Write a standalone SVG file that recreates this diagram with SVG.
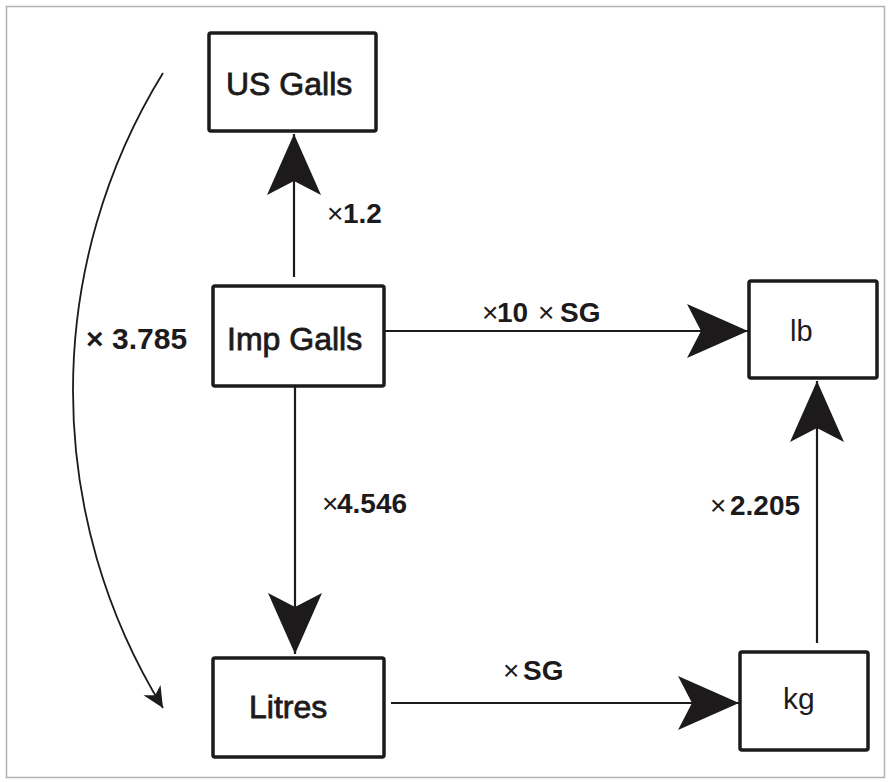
<svg xmlns="http://www.w3.org/2000/svg" width="890" height="782" viewBox="0 0 890 782">
<defs>
<style>
.box{fill:#fff;stroke:#1c1a1b;stroke-width:3.5}
.nl{font-family:"Liberation Sans",Arial,sans-serif;font-size:32px;fill:#1c1a1b}
.hv{stroke:#1c1a1b;stroke-width:0.8}
.lbl{font-family:"Liberation Sans",Arial,sans-serif;font-size:28px;fill:#1c1a1b;font-weight:bold}
.x{font-weight:normal}
.con{fill:none;stroke:#1c1a1b;stroke-width:2.2}
</style>
<marker id="big" markerUnits="userSpaceOnUse" viewBox="-62 -28 64 56" refX="0" refY="0" markerWidth="64" markerHeight="56" orient="auto">
<path d="M0,0 L-61,-27 L-47,0 L-61,27 Z" fill="#1c1a1b"/>
</marker>
<marker id="small" markerUnits="userSpaceOnUse" viewBox="-22 -11 24 22" refX="0" refY="0" markerWidth="24" markerHeight="22" orient="auto">
<path d="M0,0 L-21,-10 L-15,0 L-21,10 Z" fill="#1c1a1b"/>
</marker>
</defs>
<rect x="0" y="0" width="890" height="782" fill="#fff"/>
<rect x="6.5" y="6.5" width="878" height="771" fill="none" stroke="#b3b3b3" stroke-width="1.5"/>
<g id="connectors">
<path class="con" d="M294,277 L294,134" marker-end="url(#big)"/>
<path class="con" d="M385,331 L748,331" marker-end="url(#big)"/>
<path class="con" d="M295,386 L295,654" marker-end="url(#big)"/>
<path class="con" d="M391,703 L739,703" marker-end="url(#big)"/>
<path class="con" d="M817,643 L817,381" marker-end="url(#big)"/>
<path class="con" style="stroke-width:1.8" d="M163,73 A605,605 0 0 0 163,708" marker-end="url(#small)"/>
<text class="lbl" x="327" y="223"><tspan class="x">×</tspan><tspan x="343">1.2</tspan></text>
<text class="lbl" y="322"><tspan class="x" x="482">×</tspan><tspan x="497">10</tspan><tspan class="x" x="538">×</tspan><tspan x="560">SG</tspan></text>
<text class="lbl" style="font-size:30px" x="86" y="349">× <tspan x="112">3.785</tspan></text>
<text class="lbl" x="322" y="513"><tspan class="x">×</tspan><tspan x="337">4.546</tspan></text>
<text class="lbl" x="710" y="515"><tspan class="x">×</tspan><tspan x="730">2.205</tspan></text>
<text class="lbl" x="503" y="680"><tspan class="x">×</tspan><tspan x="523">SG</tspan></text>
</g>
<g id="us-galls">
<rect class="box" x="209" y="33" width="167" height="98" rx="2"/>
<text class="nl hv" x="226" y="95">US Galls</text>
</g>
<g id="imp-galls">
<rect class="box" x="213" y="286" width="171" height="100" rx="2"/>
<text class="nl hv" x="227" y="350">Imp Galls</text>
</g>
<g id="lb">
<rect class="box" x="749" y="281" width="128" height="97" rx="2"/>
<text class="nl" style="font-size:29px" x="790" y="341">lb</text>
</g>
<g id="litres">
<rect class="box" x="213" y="658" width="171" height="99" rx="2"/>
<text class="nl hv" x="249" y="718">Litres</text>
</g>
<g id="kg">
<rect class="box" x="740" y="652" width="128" height="98" rx="2"/>
<text class="nl" style="font-size:30px" x="783" y="709">kg</text>
</g>
</svg>
